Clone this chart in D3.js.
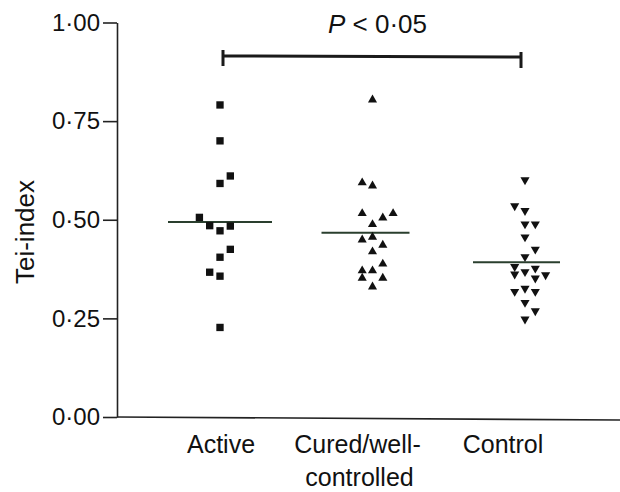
<!DOCTYPE html>
<html>
<head>
<meta charset="utf-8">
<script src="https://cdn.jsdelivr.net/npm/d3@7"></script>
<style>
  body { margin: 0; background: #fff; }
  text { font-family: "Liberation Sans", Arial, sans-serif; fill: #111; }
</style>
</head>
<body>
<div id="chart"></div>
<script>
// groups and tick labels
var groups = ["Active", "Cured/well-controlled", "Control"];
var groupLabels = [["Active"], ["Cured/well-", "controlled"], ["Control"]];
var tickValues = [0, 0.25, 0.5, 0.75, 1];
var tickLabels = ["0·00", "0·25", "0·50", "0·75", "1·00"];

// Tei-index values, with the jitter column of each point
var activeValues = [0.791, 0.700, 0.611, 0.592, 0.506, 0.485, 0.472, 0.484, 0.425, 0.405, 0.367, 0.357, 0.227];
var activeSlots  = [0, 0, 1, 0, -2, -1, 0, 1, 1, 0, -1, 0, 0];

var curedValues = [0.804, 0.594, 0.586, 0.516, 0.505, 0.516, 0.488, 0.449, 0.456, 0.436, 0.419, 0.388, 0.371, 0.371, 0.352, 0.352, 0.330];
var curedSlots  = [0, -1, 0, -1, 1, 2, 0, -1, 0, 1, 0, 1, -1, 0, -1, 1, 0];

var controlValues = [0.601, 0.535, 0.523, 0.489, 0.489, 0.456, 0.425, 0.406, 0.381, 0.362, 0.368, 0.377, 0.352, 0.360, 0.318, 0.326, 0.318, 0.290, 0.269, 0.248];
var controlSlots  = [0, -1, 0, 0, 1, 0, 1, 0, -1, -1, 0, 1, 1, 2, -1, 0, 1, 0, 1, 0];

// group means (horizontal lines)
var means = [0.494, 0.467, 0.392];
var pText = "P < 0·05";

var width = 620, height = 492;
var svg = d3.select("#chart").append("svg")
    .attr("width", width)
    .attr("height", height)
    .style("background-color", "#fff");

var axisLeftX = 117;
var y = d3.scaleLinear().domain([0, 1]).range([417, 22.5]);
var x = d3.scalePoint().domain(groups).range([220, 525]);
var slotStep = 10.3;

// y axis
var yAxis = d3.axisLeft(y)
    .tickValues(tickValues)
    .tickFormat(function(d, i){ return tickLabels[i]; })
    .tickSize(14)
    .tickSizeOuter(0)
    .tickPadding(3);

var gy = svg.append("g")
    .attr("transform", "translate(" + axisLeftX + ",0)")
    .call(yAxis);
gy.selectAll("path, line").attr("stroke", "#222").attr("stroke-width", 1.6);
gy.selectAll("text")
    .style("font-family", "Liberation Sans, Arial, sans-serif")
    .style("font-size", "24px")
    .attr("fill", "#111");

// x axis line
svg.append("line")
    .attr("x1", axisLeftX)
    .attr("x2", width)
    .attr("y1", y(0))
    .attr("y2", y(0) + 3)
    .attr("stroke", "#222")
    .attr("stroke-width", 1.6);

// category labels
var labelDx = [1, -15, -22];
groupLabels.forEach(function(lines, i){
    var t = svg.append("text")
        .attr("x", x(groups[i]) + labelDx[i])
        .attr("y", 453)
        .attr("text-anchor", "middle")
        .style("font-size", "25px");
    lines.forEach(function(s, j){
        t.append("tspan")
            .attr("x", x(groups[i]) + labelDx[i] + (j ? 2 : 0))
            .attr("dy", j ? 33 : 0)
            .text(s);
    });
});

// y title
svg.append("text")
    .attr("transform", "translate(34," + 232 + ") rotate(-90)")
    .attr("text-anchor", "middle")
    .style("font-size", "26px")
    .text("Tei-index");

// mean lines
var meanLeft = [-52, -51, -52];
var meanRight = [52, 37, 35];
svg.selectAll(".mean")
    .data(means)
    .enter()
    .append("line")
    .attr("class", "mean")
    .attr("x1", function(d, i){ return x(groups[i]) + meanLeft[i]; })
    .attr("x2", function(d, i){ return x(groups[i]) + meanRight[i]; })
    .attr("y1", function(d){ return y(d); })
    .attr("y2", function(d){ return y(d); })
    .attr("stroke", "#2a3f2e")
    .attr("stroke-width", 2);

// points
function drawGroup(values, slots, g, type, flip){
    var sym = d3.symbol().type(type).size(type === d3.symbolSquare ? 54 : 36);
    svg.append("g").selectAll("path")
        .data(values)
        .enter()
        .append("path")
        .attr("d", sym)
        .attr("transform", function(d, i){
            return "translate(" + (x(g) + slots[i] * slotStep) + "," + y(d) + ")" + (flip ? " rotate(180)" : "");
        })
        .attr("fill", "#111");
}
drawGroup(activeValues, activeSlots, groups[0], d3.symbolSquare, false);
drawGroup(curedValues, curedSlots, groups[1], d3.symbolTriangle, false);
drawGroup(controlValues, controlSlots, groups[2], d3.symbolTriangle, true);

// significance bracket
var bx1 = x(groups[0]) + 3, bx2 = x(groups[2]) - 4, by = 56;
svg.append("path")
    .attr("d", "M" + bx1 + "," + (by - 6) + "V" + (by + 10) + "M" + bx1 + "," + by + "L" + bx2 + "," + (by + 1) + "M" + bx2 + "," + (by - 4) + "V" + (by + 12))
    .attr("fill", "none")
    .attr("stroke", "#1a1a1a")
    .attr("stroke-width", 3);

var pt = svg.append("text")
    .attr("x", (x(groups[0]) + x(groups[2])) / 2 + 5)
    .attr("y", 33)
    .attr("text-anchor", "middle")
    .style("font-size", "26px");
pt.append("tspan").style("font-style", "italic").text(pText.slice(0, 1));
pt.append("tspan").text(pText.slice(1));
</script>
</body>
</html>
